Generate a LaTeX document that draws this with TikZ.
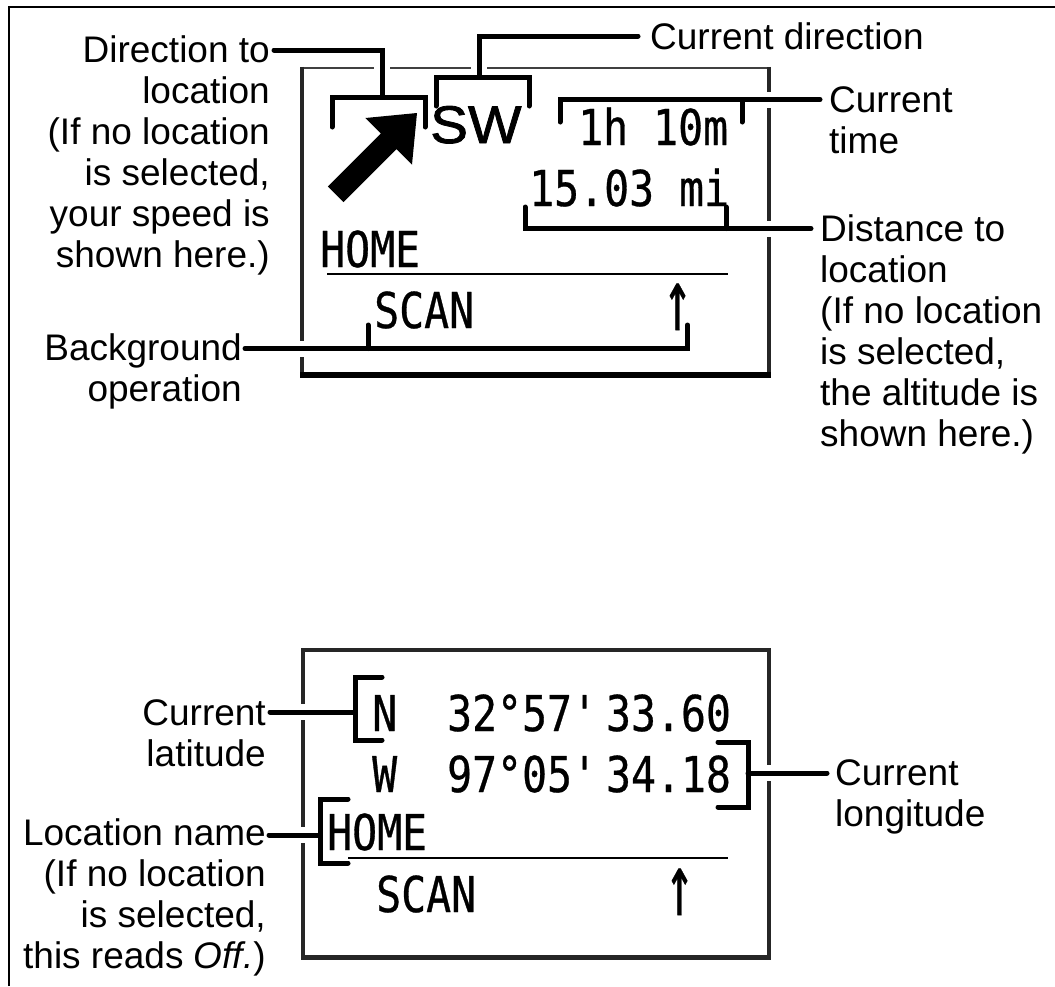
\documentclass[tikz,border=0pt]{standalone}
\usepackage{fontspec}
\usepackage{graphicx}
\setmainfont{Liberation Sans}
\newfontfamily\lcdfont[FakeStretch=0.84,FakeBold=0.6]{DejaVu Sans Mono}
\newfontfamily\swfont[FakeStretch=1.07,FakeBold=1.5]{Liberation Sans}
\newcommand\leaderpaths[1]{%
  \draw[#1] (d0) -- (d1) -- (d2) (dA) -- (dB) -- (dC) -- (dD);
  \draw[#1] (c0) -- (c1) -- (c2) (cA) -- (cB) -- (cC) -- (cD);
  \draw[#1] (tA) -- (tB) -- (t0) (tC) -- (tD);
  \draw[#1] (sA) -- (sB) -- (s0) (sC) -- (sD);
  \draw[#1] (b0) -- (bB) -- (bA) (bC) -- (bD);
  \draw[#1] (la0) -- (la1) (laA) -- (laB) -- (laC) -- (laD);
  \draw[#1] (lo0) -- (lo1) (loA) -- (loB) -- (loC) -- (loD);
  \draw[#1] (ln0) -- (ln1) (lnA) -- (lnB) -- (lnC) -- (lnD);
}
\newcommand\lcdup{\scalebox{1.15}[1.75]{↑}}
\begin{document}
\begin{tikzpicture}[x=1pt,y=-1pt,
  lbl/.style={inner sep=0pt, font=\fontsize{37}{41}\selectfont},
  lcd/.style={inner sep=0pt, anchor=base west, font=\lcdfont\fontsize{49.4}{50}\selectfont},
  leader/.style={line width=5pt, line cap=round, line join=miter},
  halo/.style={line width=16pt, draw=white, line cap=butt},
  outerframe/.style={line width=2pt},
  boxline/.style={line width=4pt, black!85},
]
\useasboundingbox (0,0) rectangle (1055,986);
\fill[white] (0,0) rectangle (1055,986);

% outer frame (top and left only)
\draw[outerframe] (9,986) -- (9,7) -- (1055,7);

% upper display box
\draw[line width=2.5pt, black!75] (300,68) -- (769,68);
\draw[boxline] (302,66.8) -- (302,378);
\draw[boxline] (769,66.8) -- (769,378);
\draw[line width=6pt] (300,375) -- (771,375);
\draw[line width=2.5pt] (327,274) -- (728,274);

% lower display box
\draw[boxline] (303,648) -- (303,959.5);
\draw[boxline] (769,648) -- (769,959.5);
\draw[boxline] (301,650) -- (771,650);
\draw[line width=5pt, black!85] (301,957.5) -- (771,957.5);
\draw[line width=2.5pt] (330,858) -- (728,858);

% leader coordinates
\coordinate (d0) at (274,50);  \coordinate (d1) at (382,50);  \coordinate (d2) at (382,97);
\coordinate (dA) at (332,127); \coordinate (dB) at (332,97);  \coordinate (dC) at (425,97); \coordinate (dD) at (425,127);
\coordinate (c0) at (638,36);  \coordinate (c1) at (479,36);  \coordinate (c2) at (479,77);
\coordinate (cA) at (436,106); \coordinate (cB) at (436,77);  \coordinate (cC) at (529,77); \coordinate (cD) at (529,106);
\coordinate (tA) at (560,122); \coordinate (tB) at (560,99.5); \coordinate (t0) at (820,99.5);
\coordinate (tC) at (742,99.5); \coordinate (tD) at (742,122);
\coordinate (sA) at (525,207); \coordinate (sB) at (525,228.5); \coordinate (s0) at (811,228.5);
\coordinate (sC) at (726,228.5); \coordinate (sD) at (726,207);
\coordinate (b0) at (245,348.5); \coordinate (bB) at (687.5,348.5); \coordinate (bA) at (687.5,325);
\coordinate (bC) at (368,348.5); \coordinate (bD) at (368,325);
\coordinate (la0) at (270,712); \coordinate (la1) at (355,712);
\coordinate (laA) at (382,677); \coordinate (laB) at (355,677); \coordinate (laC) at (355,740); \coordinate (laD) at (382,740);
\coordinate (lo0) at (269,835); \coordinate (lo1) at (320,835);
\coordinate (loA) at (348,799); \coordinate (loB) at (320,799); \coordinate (loC) at (320,863); \coordinate (loD) at (348,863);
\coordinate (ln0) at (827,773); \coordinate (ln1) at (748,773);
\coordinate (lnA) at (718,742); \coordinate (lnB) at (748,742); \coordinate (lnC) at (748,807); \coordinate (lnD) at (718,807);

% white gaps where leaders cross the box outlines
\leaderpaths{halo}

% labels (base anchor = baseline of the last line)
\node[lbl, align=right, anchor=base east] (dirlab) at (270,267)
  {Direction to\\location\\(If no location\\is selected,\\your speed is\\shown here.)};
\node[lbl, anchor=base west] (curdirlab) at (650,49) {Current direction};
\node[lbl, align=left, anchor=base west] (timelab) at (829,153) {Current\\time};
\node[lbl, align=left, anchor=base west] (distlab) at (820,446)
  {Distance to\\location\\(If no location\\is selected,\\the altitude is\\shown here.)};
\node[lbl, align=right, anchor=base east] (bglab) at (242,401) {Background\\operation};
\node[lbl, align=right, anchor=base east] (latlab) at (266,766) {Current\\latitude};
\node[lbl, align=right, anchor=base east] (loclab) at (266,968)
  {Location name\\(If no location\\is selected,\\this reads \textit{Off.})};
\node[lbl, align=left, anchor=base west] (lonlab) at (835,826) {Current\\longitude};

% display contents
\node[inner sep=0pt, anchor=base west, font=\swfont\fontsize{53}{53}\selectfont] (sw) at (430,143) {SW};
\node[lcd] (time) at (578,145) {1h 10m};
\node[lcd] (dist) at (529,206) {15.03 mi};
\node[lcd] (home1) at (320,267) {HOME};
\node[lcd] (scan1) at (374,328) {SCAN};
\node[lcd] (up1) at (663,330) {\lcdup};
\node[lcd] (lat) at (372,731) {N~~32°57'\hspace{9pt}33.60};
\node[lcd] (lon) at (372,792) {W~~97°05'\hspace{9pt}34.18};
\node[lcd] (home2) at (327,850) {HOME};
\node[lcd] (scan2) at (376,912) {SCAN};
\node[lcd] (up2) at (665,915) {\lcdup};

% direction arrow
\fill (417,113) -- (412,164.6) -- (396.5,149.1) -- (343.5,202.1) -- (327.9,186.5)
  -- (380.9,133.5) -- (365.4,118) -- cycle;

% leaders
\leaderpaths{leader}
\end{tikzpicture}
\end{document}
